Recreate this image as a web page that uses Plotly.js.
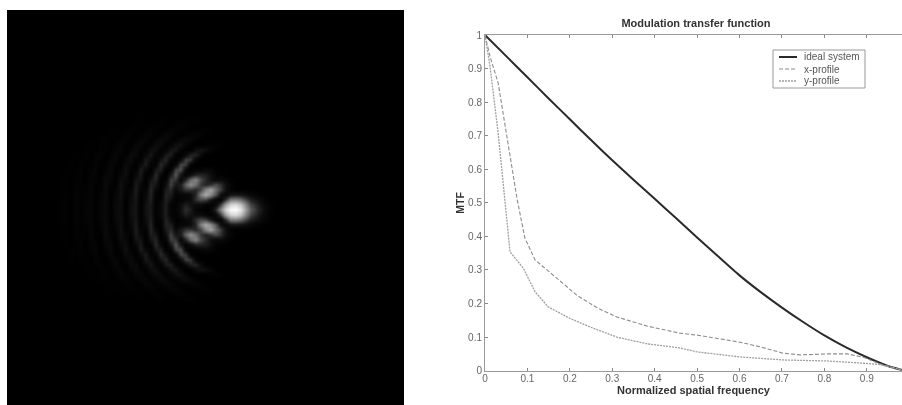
<!DOCTYPE html>
<html>
<head>
<meta charset="utf-8">
<script src="https://cdn.plot.ly/plotly-3.0.1.min.js"></script>
<style>html,body{margin:0;padding:0;background:#fff}#plot{width:902px;height:405px;filter:blur(0.6px)}</style>
</head>
<body>
<div id="plot"></div>
<script>
// ---- MTF curves ----
const idealX = [0,0.05,0.1,0.15,0.2,0.25,0.3,0.35,0.4,0.45,0.5,0.55,0.6,0.65,0.7,0.75,0.8,0.85,0.9,0.95,0.983];
const idealY = [1,0.937,0.874,0.811,0.749,0.687,0.627,0.569,0.512,0.455,0.397,0.34,0.284,0.234,0.188,0.145,0.105,0.07,0.04,0.014,0.002];
const xProfileX = [0,0.012,0.031,0.055,0.076,0.094,0.118,0.169,0.216,0.265,0.311,0.382,0.413,0.458,0.5,0.601,0.649,0.703,0.743,0.806,0.854,0.892,0.932,0.983];
const xProfileY = [1,0.935,0.857,0.678,0.509,0.395,0.33,0.276,0.225,0.187,0.16,0.133,0.124,0.112,0.106,0.085,0.071,0.052,0.047,0.05,0.05,0.04,0.02,0.002];
const yProfileX = [0,0.012,0.031,0.047,0.05,0.059,0.09,0.118,0.149,0.2,0.248,0.311,0.382,0.413,0.458,0.5,0.601,0.703,0.806,0.884,0.932,0.983];
const yProfileY = [1,0.905,0.708,0.509,0.458,0.354,0.306,0.235,0.19,0.156,0.13,0.1,0.08,0.076,0.068,0.056,0.041,0.032,0.029,0.023,0.018,0.002];
const xTicks = [0,0.1,0.2,0.3,0.4,0.5,0.6,0.7,0.8,0.9];
const xTickText = ['0','0.1','0.2','0.3','0.4','0.5','0.6','0.7','0.8','0.9'];
const yTicks = [0,0.1,0.2,0.3,0.4,0.5,0.6,0.7,0.8,0.9,1];
const yTickText = ['0','0.1','0.2','0.3','0.4','0.5','0.6','0.7','0.8','0.9','1'];
const legendNames = ['ideal system','x-profile','y-profile'];

// ---- Diffraction image: brightness ----
const imageCols = [60,65,70,75,80,85,90,95,100,105,110,115,120,125,130,135,140,145,150,155,160,165,170,175,180,185,190,195,200,205,210,215,220,225,230,235,240,245,250,255,260,265,270,275,280];
const imageRowsY = [114,119,124,129,134,139,144,149,154,159,164,169,174,179,184,189,194,199,204,209,214,219,224,229,234,239,244,249,254,259,264,269,274,279,284,289,294,299,304];
// rows from the symmetry axis outwards
const row00 = [3,4,1,9,3,9,12,1,14,18,1,21,27,1,27,35,2,32,41,3,20,45,10,8,30,60,40,12,5,2,10,55,125,205,250,255,225,150,90,65,40,20,6,1,0];
const row05 = [3,4,1,9,3,9,12,1,14,18,1,21,27,1,27,35,2,32,41,3,20,44,10,7,26,46,32,24,24,13,5,20,70,150,205,215,185,125,75,55,32,15,5,1,0];
const row10 = [3,4,1,9,3,8,12,1,12,20,1,18,28,1,22,38,1,25,47,2,8,50,26,4,8,18,24,60,78,73,41,14,10,60,115,120,105,75,48,35,20,8,2,0,0];
const row15 = [3,4,1,8,4,7,13,1,10,21,1,14,30,3,19,41,4,19,51,5,3,50,43,9,14,15,24,54,119,160,130,85,30,18,35,38,35,28,18,10,5,2,0,0,0];
const row20 = [2,3,1,8,4,4,12,2,6,21,4,9,31,6,11,44,11,9,53,17,1,42,56,20,42,64,64,53,74,126,153,105,70,30,8,4,3,2,1,0,0,0,0,0,0];
const row25 = [1,3,0,7,5,3,13,4,4,22,7,4,31,12,4,41,19,1,46,36,1,26,73,38,44,98,133,106,65,50,61,80,60,30,12,2,0,0,0,0,0,0,0,0,0];
const row30 = [1,4,1,5,6,1,12,6,0,19,11,0,26,20,0,33,33,1,34,51,5,9,70,63,18,52,101,123,78,55,30,18,25,15,3,0,0,0,0,0,0,0,0,0,0];
const row35 = [0,3,1,3,7,0,10,8,0,14,16,1,16,27,1,19,42,4,9,57,19,1,38,87,38,10,28,48,51,45,28,8,4,3,0,0,0,0,0,0,0,0,0,0,0];
const row40 = [0,2,2,2,7,2,6,11,1,9,19,2,8,30,8,5,43,20,1,38,48,1,9,72,81,18,1,7,12,20,14,5,0,0,0,0,0,0,0,0,0,0,0,0,0];
const row45 = [0,0,2,1,5,3,2,11,1,3,18,6,3,24,15,1,23,42,7,13,56,33,0,17,76,68,9,0,0,0,0,0,0,0,0,0,0,0,0,0,0,0,0,0,0];
const row50 = [0,0,2,1,3,4,1,9,5,1,11,15,1,12,26,5,5,40,25,1,33,53,15,0,23,72,64,13,0,0,0,0,0,0,0,0,0,0,0,0,0,0,0,0,0];
const row55 = [0,0,0,1,1,4,1,6,8,1,5,16,5,2,23,19,1,19,38,12,5,40,45,10,0,18,48,52,24,1,0,0,0,0,0,0,0,0,0,0,0,0,0,0,0];
const row60 = [0,0,0,0,1,3,2,1,7,4,1,10,12,2,10,22,10,3,26,29,6,7,35,39,12,0,1,23,33,29,12,2,0,0,0,0,0,0,0,0,0,0,0,0,0];
const row65 = [0,0,0,0,0,1,3,1,4,5,1,6,12,5,2,15,17,4,8,24,22,4,10,29,32,13,0,0,0,2,7,8,5,1,0,0,0,0,0,0,0,0,0,0,0];
const row70 = [0,0,0,0,0,0,2,1,2,5,2,2,7,10,3,4,14,13,2,10,21,18,5,4,17,24,17,4,0,0,0,0,0,0,0,0,0,0,0,0,0,0,0,0,0];
const row75 = [0,0,0,0,0,0,0,1,1,2,4,1,2,7,6,1,4,11,10,3,7,16,14,5,1,5,11,12,8,2,0,0,0,0,0,0,0,0,0,0,0,0,0,0,0];
const row80 = [0,0,0,0,0,0,0,0,0,1,3,2,0,2,6,3,0,4,9,6,1,4,10,11,6,1,0,1,4,5,3,0,0,0,0,0,0,0,0,0,0,0,0,0,0];
const row85 = [0,0,0,0,0,0,0,0,0,0,0,0,0,0,2,4,2,0,2,6,4,1,1,5,8,6,2,0,0,0,0,0,0,0,0,0,0,0,0,0,0,0,0,0,0];
const row90 = [0,0,0,0,0,0,0,0,0,0,0,0,0,0,0,1,3,1,0,1,4,2,0,0,1,4,5,3,0,0,0,0,0,0,0,0,0,0,0,0,0,0,0,0,0];
const row95 = [0,0,0,0,0,0,0,0,0,0,0,0,0,0,0,0,0,0,0,0,0,0,0,0,0,0,0,0,0,0,0,0,0,0,0,0,0,0,0,0,0,0,0,0,0];
const halfRows = [row00,row05,row10,row15,row20,row25,row30,row35,row40,row45,row50,row55,row60,row65,row70,row75,row80,row85,row90,row95];
const imageZ = halfRows.slice().reverse().concat(halfRows.slice(1));

const idealLine = {color:'#2a2a2a', width:2};
const xLine = {color:'#8c8c8c', width:1.1, dash:'4px,2px'};
const yLine = {color:'#a0a0a0', width:1.3, dash:'2px,1px'};

const traces = [
  {type:'heatmap', x:imageCols, y:imageRowsY, z:imageZ, xaxis:'x2', yaxis:'y2', zmin:0, zmax:255, zsmooth:'best',
   colorscale:[[0,'#000000'],[0.1,'#0c0c0c'],[0.2,'#232323'],[0.3,'#484848'],[0.4,'#6a6a6a'],[0.6,'#a4a4a4'],[0.8,'#d4d4d4'],[1,'#ffffff']], showscale:false, hoverinfo:'skip'},
  {type:'scatter', mode:'lines', name:legendNames[0], x:idealX, y:idealY, line:Object.assign({shape:'spline', smoothing:0.6}, idealLine), showlegend:false},
  {type:'scatter', mode:'lines', name:legendNames[1], x:xProfileX, y:xProfileY, line:xLine, showlegend:false},
  {type:'scatter', mode:'lines', name:legendNames[2], x:yProfileX, y:yProfileY, line:yLine, showlegend:false}
];

const fontFamily = '"Liberation Sans", Arial, sans-serif';
const tickFont = {family:fontFamily, size:10, color:'#666666'};
const titleFont = {family:fontFamily, size:11, color:'#333333', weight:700};

// Plotly's own legend rows cannot be as tight as the reference's, so the key is built from shapes and text
const W = 902, H = 405;
const legendBox = {type:'rect', xref:'paper', yref:'paper', x0:773/W, x1:865/W, y0:1-88/H, y1:1-50/H, fillcolor:'#ffffff', line:{color:'#999999', width:1}};
const legendRowsPx = [57, 69, 81];
const legendLines = [idealLine, xLine, yLine];
const keySamples = legendRowsPx.map((py,i) => ({type:'line', xref:'paper', yref:'paper', x0:779/W, x1:797/W, y0:1-py/H, y1:1-py/H, line:legendLines[i]}));
const keyLabels = legendRowsPx.map((py,i) => ({xref:'paper', yref:'paper', x:802/W, y:1-py/H, xanchor:'left', yanchor:'middle', showarrow:false, align:'left',
  text:legendNames[i], font:{family:fontFamily, size:10, color:'#555555'}}));

const layout = {
  width:W, height:H, margin:{l:0,r:0,t:0,b:0}, paper_bgcolor:'#ffffff', plot_bgcolor:'#ffffff', showlegend:false,
  title:{text:'Modulation transfer function', font:titleFont, x:696/W, xref:'paper', xanchor:'center', y:1-23/H, yref:'paper', yanchor:'middle'},
  xaxis:{domain:[485/W,1], range:[0,0.983], anchor:'y', tickmode:'array', tickvals:xTicks, ticktext:xTickText, ticks:'inside', ticklen:3, tickcolor:'#888888',
         showline:true, linecolor:'#999999', linewidth:1, mirror:'ticks', showgrid:false, zeroline:false, tickfont:tickFont, tickangle:0, ticklabelstandoff:-2,
         title:{text:'Normalized spatial frequency', font:titleFont, standoff:3}, automargin:false},
  yaxis:{domain:[1-370.7/H,1-35/H], range:[0,1], anchor:'x', tickmode:'array', tickvals:yTicks, ticktext:yTickText, ticks:'inside', ticklen:3, tickcolor:'#888888',
         showline:true, linecolor:'#999999', linewidth:1, showgrid:false, zeroline:false, tickfont:tickFont,
         title:{text:'MTF', font:{family:fontFamily, size:10.5, color:'#333333', weight:700}, standoff:1}, automargin:false},
  xaxis2:{domain:[7/W,404/W], range:[7,404], anchor:'y2', visible:false, fixedrange:true},
  yaxis2:{domain:[0,395/H], range:[405,10], anchor:'x2', visible:false, fixedrange:true},
  annotations:keyLabels,
  shapes:[{type:'rect', xref:'x2', yref:'y2', x0:7, x1:404, y0:10, y1:405, fillcolor:'#000000', line:{width:0}, layer:'below'}, legendBox].concat(keySamples)
};
Plotly.newPlot('plot', traces, layout, {displayModeBar:false, staticPlot:true});
</script>
</body>
</html>
